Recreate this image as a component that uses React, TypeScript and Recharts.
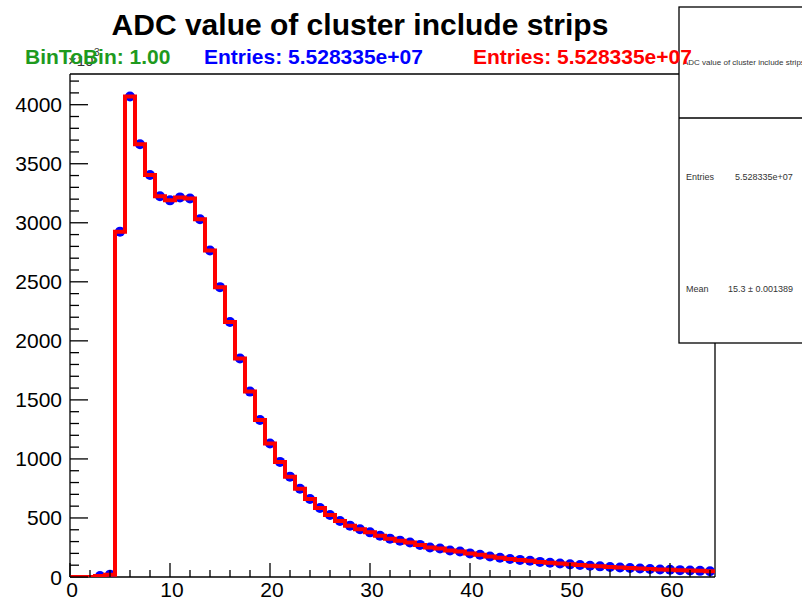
import { ComposedChart, Line, XAxis, YAxis } from 'recharts';

const binCenters = [
  0, 1, 2, 3, 4, 5, 6, 7, 8, 9, 10, 11, 12, 13, 14, 15, 16, 17, 18, 19, 20, 21,
  22, 23, 24, 25, 26, 27, 28, 29, 30, 31, 32, 33, 34, 35, 36, 37, 38, 39, 40, 41,
  42, 43, 44, 45, 46, 47, 48, 49, 50, 51, 52, 53, 54, 55, 56, 57, 58, 59, 60, 61,
  62, 63, 64,
];

const binEdges = [
  -0.5, 0.5, 1.5, 2.5, 3.5, 4.5, 5.5, 6.5, 7.5, 8.5, 9.5, 10.5, 11.5, 12.5, 13.5,
  14.5, 15.5, 16.5, 17.5, 18.5, 19.5, 20.5, 21.5, 22.5, 23.5, 24.5, 25.5, 26.5,
  27.5, 28.5, 29.5, 30.5, 31.5, 32.5, 33.5, 34.5, 35.5, 36.5, 37.5, 38.5, 39.5,
  40.5, 41.5, 42.5, 43.5, 44.5, 45.5, 46.5, 47.5, 48.5, 49.5, 50.5, 51.5, 52.5,
  53.5, 54.5, 55.5, 56.5, 57.5, 58.5, 59.5, 60.5, 61.5, 62.5, 63.5, 64.5,
];

// red histogram (step line)
const redCounts = [
  0, 0, 0, 8, 20, 2925, 4070, 3665, 3405, 3225, 3190, 3215, 3205, 3030, 2765, 2455,
  2160, 1850, 1570, 1330, 1130, 975, 850, 748, 660, 585, 525, 475, 435, 405, 378,
  350, 325, 308, 292, 272, 250, 242, 225, 216, 200, 188, 174, 163, 153, 145, 137,
  128, 121, 114, 107, 101, 95, 90, 85, 80, 76, 72, 68, 64, 61, 58, 55, 52, 49,
];

// blue histogram (markers), empty bins have no marker
const blueCounts = [
  null, null, null, 8, 20, 2925, 4070, 3665, 3405, 3225, 3190, 3215, 3205, 3030,
  2765, 2455, 2160, 1850, 1570, 1330, 1130, 975, 850, 748, 660, 585, 525, 475, 435,
  405, 378, 350, 325, 308, 292, 272, 250, 242, 225, 216, 200, 188, 174, 163, 153,
  145, 137, 128, 121, 114, 107, 101, 95, 90, 85, 80, 76, 72, 68, 64, 61, 58, 55, 52,
  49,
];

const xTickLabels = [0, 10, 20, 30, 40, 50, 60];
const xMinorTicks = [
  0, 2, 4, 6, 8, 10, 12, 14, 16, 18, 20, 22, 24, 26, 28, 30, 32, 34, 36, 38, 40, 42,
  44, 46, 48, 50, 52, 54, 56, 58, 60, 62, 64,
];
const yTickLabels = [0, 500, 1000, 1500, 2000, 2500, 3000, 3500, 4000];
const yMinorTicks = [
  0, 100, 200, 300, 400, 500, 600, 700, 800, 900, 1000, 1100, 1200, 1300, 1400,
  1500, 1600, 1700, 1800, 1900, 2000, 2100, 2200, 2300, 2400, 2500, 2600, 2700,
  2800, 2900, 3000, 3100, 3200, 3300, 3400, 3500, 3600, 3700, 3800, 3900, 4000,
  4100, 4200,
];

const X_DOMAIN: [number, number] = [0, 64.5];
const Y_DOMAIN: [number, number] = [0, 4260];
const FONT = '"Liberation Sans", Arial, Helvetica, sans-serif';

const stepTable = binEdges.map((x, i) => ({
  x,
  y: redCounts[Math.min(i, redCounts.length - 1)],
}));
const markerTable = binCenters.map((x, i) => ({ x, y: blueCounts[i] }));

const frame = { stroke: '#000', strokeWidth: 1.3 };

// ROOT-style ticks: drawn inside the frame, labels outside
const BottomTick = (props: any) => {
  const { x, y, payload } = props;
  const major = xTickLabels.includes(payload.value);
  return (
    <g>
      <line x1={x} x2={x} y1={y} y2={y - (major ? 14 : 7)} stroke="#000" strokeWidth={1.3} />
      {major && (
        <text x={x + 2} y={y + 20} textAnchor="middle" fontFamily={FONT} fontSize={21} fill="#000">
          {payload.value}
        </text>
      )}
    </g>
  );
};

const TopTick = (props: any) => {
  const { x, y, payload } = props;
  const major = xTickLabels.includes(payload.value);
  return <line x1={x} x2={x} y1={y} y2={y + (major ? 14 : 7)} stroke="#000" strokeWidth={1.3} />;
};

const LeftTick = (props: any) => {
  const { x, y, payload } = props;
  const major = yTickLabels.includes(payload.value);
  return (
    <g>
      <line x1={x} x2={x + (major ? 18 : 9)} y1={y} y2={y} stroke="#000" strokeWidth={1.3} />
      {major && (
        <text x={x - 8} y={y + 7.5} textAnchor="end" fontFamily={FONT} fontSize={21} fill="#000">
          {payload.value}
        </text>
      )}
    </g>
  );
};

const RightTick = (props: any) => {
  const { x, y, payload } = props;
  const major = yTickLabels.includes(payload.value);
  return <line x1={x} x2={x - (major ? 18 : 9)} y1={y} y2={y} stroke="#000" strokeWidth={1.3} />;
};

export default function App() {
  return (
    <div style={{ position: 'absolute', left: 0, top: 0, width: 802, height: 600, background: '#fff' }}>
      <ComposedChart width={802} height={600} margin={{ top: 73, right: 86, bottom: 0, left: 0 }}>
        <XAxis
          xAxisId="x"
          dataKey="x"
          type="number"
          domain={X_DOMAIN}
          allowDataOverflow
          ticks={xMinorTicks}
          interval={0}
          tickLine={false}
          axisLine={frame}
          tickSize={0}
          tickMargin={0}
          height={23}
          tick={BottomTick}
        />
        <XAxis
          xAxisId="top"
          orientation="top"
          type="number"
          domain={X_DOMAIN}
          ticks={xMinorTicks}
          interval={0}
          tickLine={false}
          axisLine={frame}
          tickSize={0}
          tickMargin={0}
          height={1}
          tick={TopTick}
        />

        <YAxis
          yAxisId="y"
          type="number"
          domain={Y_DOMAIN}
          allowDataOverflow
          ticks={yMinorTicks}
          interval={0}
          tickLine={false}
          axisLine={frame}
          tickSize={0}
          tickMargin={0}
          width={70}
          tick={LeftTick}
        />
        <YAxis
          yAxisId="right"
          orientation="right"
          type="number"
          domain={Y_DOMAIN}
          ticks={yMinorTicks}
          interval={0}
          tickLine={false}
          axisLine={frame}
          tickSize={0}
          tickMargin={0}
          width={1}
          tick={RightTick}
        />

        <Line
          xAxisId="x"
          yAxisId="y"
          data={markerTable}
          dataKey="y"
          stroke="none"
          strokeWidth={0}
          dot={{ r: 5, fill: '#0000ff', stroke: 'none' }}
          activeDot={false}
          isAnimationActive={false}
        />
        <Line
          xAxisId="x"
          yAxisId="y"
          data={stepTable}
          dataKey="y"
          type="stepAfter"
          stroke="#ff0000"
          strokeWidth={4}
          dot={false}
          activeDot={false}
          isAnimationActive={false}
          zIndex={900}
        />
      </ComposedChart>

      <svg width={802} height={600} style={{ position: 'absolute', left: 0, top: 0, pointerEvents: 'none' }}>
        <text x={360} y={35} textAnchor="middle" fontFamily={FONT} fontWeight="bold" fontSize={30} fill="#000">
          ADC value of cluster include strips
        </text>

        {/* stats box */}
        <rect x={679} y={7} width={140} height={336} fill="#fff" stroke="#000" strokeWidth={1.3} />
        <line x1={679} y1={118} x2={802} y2={118} stroke="#000" strokeWidth={1.3} />
        <text x={683} y={65} fontFamily={FONT} fontSize={8} fill="#333">ADC value of cluster include strips</text>
        <text x={686} y={180} fontFamily={FONT} fontSize={9} fill="#333">Entries</text>
        <text x={735} y={180} fontFamily={FONT} fontSize={9} fill="#333">5.528335e+07</text>
        <text x={686} y={292} fontFamily={FONT} fontSize={9} fill="#333">Mean</text>
        <text x={728} y={292} fontFamily={FONT} fontSize={9} fill="#333">15.3 ±  0.001389</text>

        <text x={68} y={66} fontFamily={FONT} fontSize={15} fill="#333">×10</text>
        <text x={94} y={56} fontFamily={FONT} fontSize={10} fill="#333">3</text>

        <text x={25} y={64} fontFamily={FONT} fontWeight="bold" fontSize={21} fill="#1e9a1e">BinToBin: 1.00</text>
        <text x={204} y={64} fontFamily={FONT} fontWeight="bold" fontSize={21} fill="#0000ff">Entries: 5.528335e+07</text>
        <text x={473} y={64} fontFamily={FONT} fontWeight="bold" fontSize={21} fill="#ff0000">Entries: 5.528335e+07</text>
      </svg>
    </div>
  );
}
